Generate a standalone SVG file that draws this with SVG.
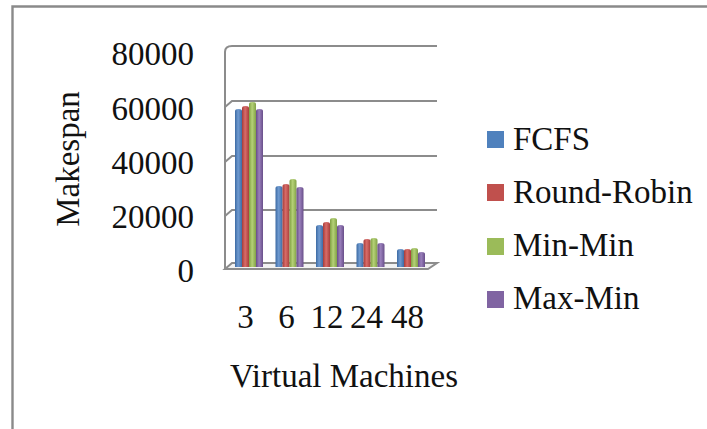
<svg xmlns="http://www.w3.org/2000/svg" width="707" height="429" viewBox="0 0 707 429">
  <style>
    .lbl { font-family: "Liberation Serif", "Times New Roman", serif; font-size: 33px; fill: #111; }
    .grid { stroke: #8c8c8c; stroke-width: 2; fill: none; }
    .frame { stroke: #8a8a8a; stroke-width: 2.4; fill: none; }
  </style>
  <defs>
    <linearGradient id="gBlue" x1="0" y1="0" x2="1" y2="0">
      <stop offset="0" stop-color="#3c6aa3"/><stop offset="0.45" stop-color="#6f9ad0"/><stop offset="1" stop-color="#3e6ba5"/>
    </linearGradient>
    <linearGradient id="gRed" x1="0" y1="0" x2="1" y2="0">
      <stop offset="0" stop-color="#a63c39"/><stop offset="0.45" stop-color="#d86c69"/><stop offset="1" stop-color="#a83e3b"/>
    </linearGradient>
    <linearGradient id="gGreen" x1="0" y1="0" x2="1" y2="0">
      <stop offset="0" stop-color="#80a043"/><stop offset="0.45" stop-color="#b5d177"/><stop offset="1" stop-color="#82a246"/>
    </linearGradient>
    <linearGradient id="gPurple" x1="0" y1="0" x2="1" y2="0">
      <stop offset="0" stop-color="#674d88"/><stop offset="0.45" stop-color="#9a80bc"/><stop offset="1" stop-color="#694f8a"/>
    </linearGradient>
  </defs>

  <rect width="707" height="429" fill="#ffffff"/>

  <!-- chart area frame -->
  <path class="frame" d="M12.5,429 V6.5 H707"/>

  <!-- walls, gridlines and floor -->
  <g id="axes">
    <path class="grid" d="M225,269 V52 Q225,46 232,46 H437"/>
    <path class="grid" d="M225,107 L232,101 H437"/>
    <path class="grid" d="M225,162 L232,156 H437"/>
    <path class="grid" d="M225,216 L232,210 H437"/>
    <path d="M225,269 L232,263 H437 L428,269 Z" fill="#f2f2f2" stroke="#8c8c8c" stroke-width="2"/>
  </g>

  <!-- value axis labels -->
  <g id="value-axis" class="lbl" text-anchor="end">
    <text x="194" y="65">80000</text>
    <text x="194" y="120">60000</text>
    <text x="194" y="174">40000</text>
    <text x="194" y="228">20000</text>
    <text x="194" y="282">0</text>
  </g>
  <text id="y-title" class="lbl" transform="translate(79,159) rotate(-90)" text-anchor="middle">Makespan</text>

  <!-- bars: 3 VMs -->
  <g id="vm3">
    <path d="M235,267 V111 Q235,109 238.5,109 Q242,109 242,111 V267 Z" fill="url(#gBlue)"/>
    <path d="M242,267 V108 Q242,106 245.5,106 Q249,106 249,108 V267 Z" fill="url(#gRed)"/>
    <path d="M249,267 V104 Q249,102 252.5,102 Q256,102 256,104 V267 Z" fill="url(#gGreen)"/>
    <path d="M256,267 V111 Q256,109 259.5,109 Q263,109 263,111 V267 Z" fill="url(#gPurple)"/>
  </g>
  <!-- bars: 6 VMs -->
  <g id="vm6">
    <path d="M275.5,267 V188 Q275.5,186 279,186 Q282.5,186 282.5,188 V267 Z" fill="url(#gBlue)"/>
    <path d="M282.5,267 V186 Q282.5,184 286,184 Q289.5,184 289.5,186 V267 Z" fill="url(#gRed)"/>
    <path d="M289.5,267 V181 Q289.5,179 293,179 Q296.5,179 296.5,181 V267 Z" fill="url(#gGreen)"/>
    <path d="M296.5,267 V189 Q296.5,187 300,187 Q303.5,187 303.5,189 V267 Z" fill="url(#gPurple)"/>
  </g>
  <!-- bars: 12 VMs -->
  <g id="vm12">
    <path d="M316,267 V227 Q316,225 319.5,225 Q323,225 323,227 V267 Z" fill="url(#gBlue)"/>
    <path d="M323,267 V224 Q323,222 326.5,222 Q330,222 330,224 V267 Z" fill="url(#gRed)"/>
    <path d="M330,267 V220 Q330,218 333.5,218 Q337,218 337,220 V267 Z" fill="url(#gGreen)"/>
    <path d="M337,267 V227 Q337,225 340.5,225 Q344,225 344,227 V267 Z" fill="url(#gPurple)"/>
  </g>
  <!-- bars: 24 VMs -->
  <g id="vm24">
    <path d="M356.5,267 V245 Q356.5,243 360,243 Q363.5,243 363.5,245 V267 Z" fill="url(#gBlue)"/>
    <path d="M363.5,267 V241 Q363.5,239 367,239 Q370.5,239 370.5,241 V267 Z" fill="url(#gRed)"/>
    <path d="M370.5,267 V240 Q370.5,238 374,238 Q377.5,238 377.5,240 V267 Z" fill="url(#gGreen)"/>
    <path d="M377.5,267 V245 Q377.5,243 381,243 Q384.5,243 384.5,245 V267 Z" fill="url(#gPurple)"/>
  </g>
  <!-- bars: 48 VMs -->
  <g id="vm48">
    <path d="M397,267 V251 Q397,249 400.5,249 Q404,249 404,251 V267 Z" fill="url(#gBlue)"/>
    <path d="M404,267 V251 Q404,249 407.5,249 Q411,249 411,251 V267 Z" fill="url(#gRed)"/>
    <path d="M411,267 V250 Q411,248 414.5,248 Q418,248 418,250 V267 Z" fill="url(#gGreen)"/>
    <path d="M418,267 V254 Q418,252 421.5,252 Q425,252 425,254 V267 Z" fill="url(#gPurple)"/>
  </g>

  <!-- category axis labels -->
  <g id="category-axis" class="lbl" text-anchor="middle">
    <text x="245.5" y="328">3</text>
    <text x="286.5" y="328">6</text>
    <text x="327" y="328">12</text>
    <text x="366.5" y="328">24</text>
    <text x="407.5" y="328">48</text>
  </g>
  <text id="x-title" class="lbl" x="344" y="387" text-anchor="middle">Virtual Machines</text>

  <!-- legend -->
  <g id="legend">
    <rect x="487" y="131" width="17" height="17" fill="#4f81bd"/>
    <rect x="487" y="184" width="17" height="17" fill="#c0504d"/>
    <rect x="487" y="238" width="17" height="17" fill="#9bbb59"/>
    <rect x="487" y="291" width="17" height="17" fill="#8064a2"/>
    <text class="lbl" x="513" y="150">FCFS</text>
    <text class="lbl" x="513" y="203">Round-Robin</text>
    <text class="lbl" x="513" y="256">Min-Min</text>
    <text class="lbl" x="513" y="309">Max-Min</text>
  </g>
</svg>
